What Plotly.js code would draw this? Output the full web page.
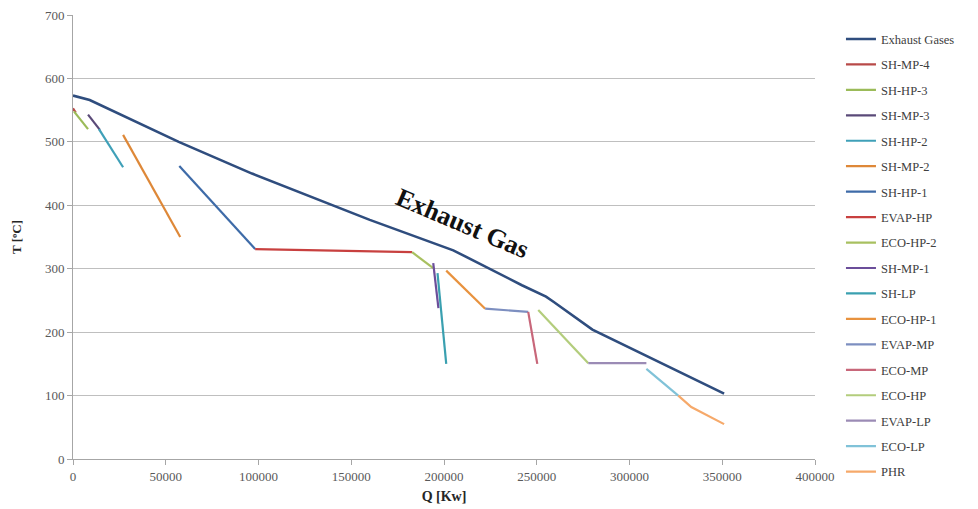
<!DOCTYPE html>
<html>
<head>
<meta charset="utf-8">
<script src="https://cdn.plot.ly/plotly-3.0.1.min.js"></script>
<style>html,body{margin:0;padding:0;background:#fff;}#chart{width:978px;height:509px;}</style>
</head>
<body>
<div id="chart"></div>
<script>
// Series data: Q [kW] and T [°C]
const seriesNames = ["Exhaust Gases","SH-MP-4","SH-HP-3","SH-MP-3","SH-HP-2","SH-MP-2","SH-HP-1","EVAP-HP","ECO-HP-2","SH-MP-1","SH-LP","ECO-HP-1","EVAP-MP","ECO-MP","ECO-HP","EVAP-LP","ECO-LP","PHR"];

const exhaustQ = [0, 9000, 57000, 96500, 160000, 205000, 242000, 255000, 259000, 280000, 351000];
const exhaustT = [573, 566, 500, 450, 377, 329, 274, 256, 248, 204, 103];

const shMp4Q = [0, 1500];            const shMp4T = [553, 546];
const shHp3Q = [500, 8100];          const shHp3T = [548, 520];
const shMp3Q = [8100, 14500];        const shMp3T = [543, 519];
const shHp2Q = [14000, 27000];       const shHp2T = [520, 460];
const shMp2Q = [27000, 57800];       const shMp2T = [511, 350];
const shHp1Q = [57300, 98200];       const shHp1T = [462, 331];
const evapHpQ = [98200, 182800];     const evapHpT = [331, 326];
const ecoHp2Q = [182800, 194200];    const ecoHp2T = [326, 301];
const shMp1Q = [194200, 197000];     const shMp1T = [309, 238];
const shLpQ = [196500, 201200];      const shLpT = [293, 150];
const ecoHp1Q = [201200, 222200];    const ecoHp1T = [297, 237];
const evapMpQ = [222200, 245400];    const evapMpT = [237, 232];
const ecoMpQ = [245400, 250300];     const ecoMpT = [232, 150];
const ecoHpQ = [250800, 277800];     const ecoHpT = [235, 151];
const evapLpQ = [277800, 309100];    const evapLpT = [151, 151];
const ecoLpQ = [309100, 326300];     const ecoLpT = [142, 100];
const phrQ = [326300, 333300, 351000]; const phrT = [100, 82, 55];

const xTicks = [0, 50000, 100000, 150000, 200000, 250000, 300000, 350000, 400000];
const yTicks = [0, 100, 200, 300, 400, 500, 600, 700];

const allQ = [exhaustQ, shMp4Q, shHp3Q, shMp3Q, shHp2Q, shMp2Q, shHp1Q, evapHpQ, ecoHp2Q, shMp1Q, shLpQ, ecoHp1Q, evapMpQ, ecoMpQ, ecoHpQ, evapLpQ, ecoLpQ, phrQ];
const allT = [exhaustT, shMp4T, shHp3T, shMp3T, shHp2T, shMp2T, shHp1T, evapHpT, ecoHp2T, shMp1T, shLpT, ecoHp1T, evapMpT, ecoMpT, ecoHpT, evapLpT, ecoLpT, phrT];
const colors = ["#2F4D7E","#B84A48","#9BBB59","#5A4A78","#3FA0B8","#DE8838","#3E6BA8","#C8403F","#A8C060","#6B4E9A","#3AA0B0","#E8923E","#7D8FC0","#C8677A","#B3CD7C","#9B8BB5","#80C2D8","#F6A96A"];

const traces = seriesNames.map((n, i) => ({
  type: 'scatter', mode: 'lines', name: n,
  x: allQ[i], y: allT[i],
  line: {color: colors[i], width: i === 0 ? 2.6 : 2.2},
  legendgroup: 'g' + i
}));

const layout = {
  width: 978, height: 509,
  margin: {l: 73, r: 163, t: 15, b: 50},
  paper_bgcolor: '#fff', plot_bgcolor: '#fff',
  font: {family: 'Liberation Serif, Times New Roman, serif', color: '#595959', size: 12},
  xaxis: {
    range: [0, 400000], tickvals: xTicks, ticktext: xTicks.map(String),
    showgrid: false, zeroline: false, showline: true, linecolor: '#A6A6A6', linewidth: 1,
    ticks: 'outside', ticklen: 5, tickcolor: '#A6A6A6',
    tickfont: {size: 13, color: '#595959'},
    title: {text: '<b>Q [Kw]</b>', font: {size: 14, color: '#262626'}, standoff: 8}
  },
  yaxis: {
    range: [0, 700], tickvals: yTicks, ticktext: yTicks.map(String),
    showgrid: true, gridcolor: '#BFBFBF', gridwidth: 1, zeroline: false,
    showline: true, linecolor: '#A6A6A6', linewidth: 1,
    ticks: 'outside', ticklen: 5, tickcolor: '#A6A6A6',
    tickfont: {size: 13, color: '#595959'},
    title: {text: '<b>T [ºC]</b>', font: {size: 13, color: '#262626'}, standoff: 20}
  },
  legend: {
    x: 1.035, xanchor: 'left', y: 0.979, yanchor: 'top',
    font: {size: 12.5, color: '#404040', family: 'Liberation Serif, serif'},
    traceorder: 'grouped', tracegroupgap: 6.2, itemwidth: 30,
    maxheight: 505,
    bgcolor: 'rgba(0,0,0,0)'
  },
  annotations: [{
    x: 210000, y: 371, xref: 'x', yref: 'y', showarrow: false,
    text: '<b>Exhaust Gas</b>', textangle: 23,
    font: {family: 'Liberation Serif, serif', size: 26, color: '#111'}
  }],
  showlegend: true
};

Plotly.newPlot('chart', traces, layout, {displayModeBar: false, staticPlot: true});
</script>
</body>
</html>
